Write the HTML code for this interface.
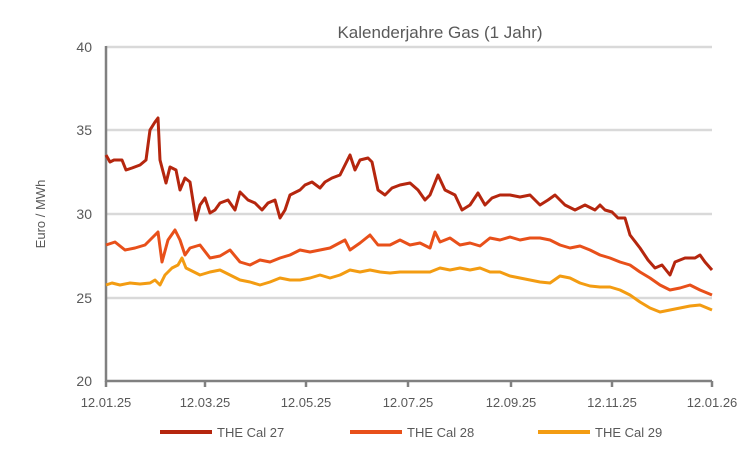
<!DOCTYPE html>
<html><head><meta charset="utf-8"><style>body{margin:0;background:#fff}svg{display:block;font-family:"Liberation Sans",sans-serif}</style></head><body>
<svg width="750" height="450" viewBox="0 0 750 450">
<text x="440" y="38" font-size="17" fill="#595959" text-anchor="middle">Kalenderjahre Gas (1 Jahr)</text>
<g stroke="#d9d9d9" stroke-width="2.5">
<line x1="106" y1="47" x2="712" y2="47"/><line x1="106" y1="130" x2="712" y2="130"/><line x1="106" y1="214" x2="712" y2="214"/><line x1="106" y1="298" x2="712" y2="298"/>
</g>
<g font-size="14" fill="#595959" text-anchor="end">
<text x="92" y="52">40</text><text x="92" y="135">35</text><text x="92" y="219">30</text><text x="92" y="303">25</text><text x="92" y="386">20</text>
</g>
<text transform="translate(45,214) rotate(-90)" font-size="13" fill="#595959" text-anchor="middle">Euro / MWh</text>
<g stroke="#808080" stroke-width="2.5"><line x1="106" y1="46" x2="106" y2="382"/><line x1="105" y1="381" x2="712" y2="381"/>
<line x1="106" y1="381" x2="106" y2="387"/><line x1="205" y1="381" x2="205" y2="387"/><line x1="306" y1="381" x2="306" y2="387"/><line x1="408" y1="381" x2="408" y2="387"/><line x1="511" y1="381" x2="511" y2="387"/><line x1="612" y1="381" x2="612" y2="387"/><line x1="712" y1="381" x2="712" y2="387"/></g>
<g font-size="13" fill="#595959" text-anchor="middle">
<text x="106" y="407">12.01.25</text><text x="205" y="407">12.03.25</text><text x="306" y="407">12.05.25</text><text x="408" y="407">12.07.25</text><text x="511" y="407">12.09.25</text><text x="612" y="407">12.11.25</text><text x="712" y="407">12.01.26</text>
</g>
<g fill="none" stroke-width="3" stroke-linejoin="round">
<polyline stroke="#f39c12" points="106,285 112,283 120,285 130,283 140,284 150,283 155,280 160,285 165,275 172,268 178,265 182,258 186,268 190,270 200,275 210,272 220,270 230,275 240,280 250,282 260,285 270,282 280,278 290,280 300,280 310,278 320,275 330,278 340,275 350,270 360,272 370,270 380,272 390,273 400,272 410,272 420,272 430,272 440,268 450,270 460,268 470,270 480,268 490,272 500,272 510,276 520,278 530,280 540,282 550,283 560,276 570,278 580,283 590,286 600,287 610,287 620,290 630,295 640,302 650,308 660,312 670,310 680,308 690,306 700,305 712,310"/>
<polyline stroke="#e8501a" points="106,245 115,242 125,250 135,248 145,245 150,240 158,232 162,262 168,240 175,230 180,240 185,255 190,248 200,245 210,258 220,256 230,250 240,262 250,265 260,260 270,262 280,258 290,255 300,250 310,252 320,250 330,248 345,240 350,250 360,243 370,235 378,245 390,245 400,240 410,245 420,243 430,248 435,232 440,242 450,238 460,245 470,243 480,246 490,238 500,240 510,237 520,240 530,238 540,238 550,240 560,245 570,248 580,246 590,250 600,255 610,258 620,262 630,265 640,272 650,278 660,285 670,290 680,288 690,285 700,290 712,295"/>
<polyline stroke="#b5260e" points="106,155 110,162 114,160 122,160 126,170 132,168 140,165 146,160 150,130 155,122 158,118 160,160 166,183 170,167 176,170 180,190 185,178 190,182 196,220 200,205 205,198 210,213 215,210 220,203 228,200 235,210 240,192 248,200 255,203 262,210 268,203 275,200 280,218 285,210 290,195 300,190 305,185 312,182 320,188 325,182 332,178 340,175 345,165 350,155 355,170 360,160 368,158 372,162 378,190 385,195 392,188 400,185 410,183 418,190 425,200 430,195 438,175 445,190 455,195 462,210 470,205 478,193 485,205 492,198 500,195 510,195 520,197 530,195 540,205 548,200 555,195 565,205 575,210 585,205 595,210 600,205 605,210 612,212 618,218 625,218 630,235 640,248 648,260 655,268 662,265 670,275 675,262 685,258 695,258 700,255 705,262 712,270"/>
</g>
<g stroke-width="4"><line x1="160" y1="432" x2="212" y2="432" stroke="#b5260e"/><line x1="350" y1="432" x2="402" y2="432" stroke="#e8501a"/><line x1="538" y1="432" x2="590" y2="432" stroke="#f39c12"/></g>
<g font-size="13" fill="#595959"><text x="217" y="437">THE Cal 27</text><text x="407" y="437">THE Cal 28</text><text x="595" y="437">THE Cal 29</text></g>
</svg>
</body></html>
